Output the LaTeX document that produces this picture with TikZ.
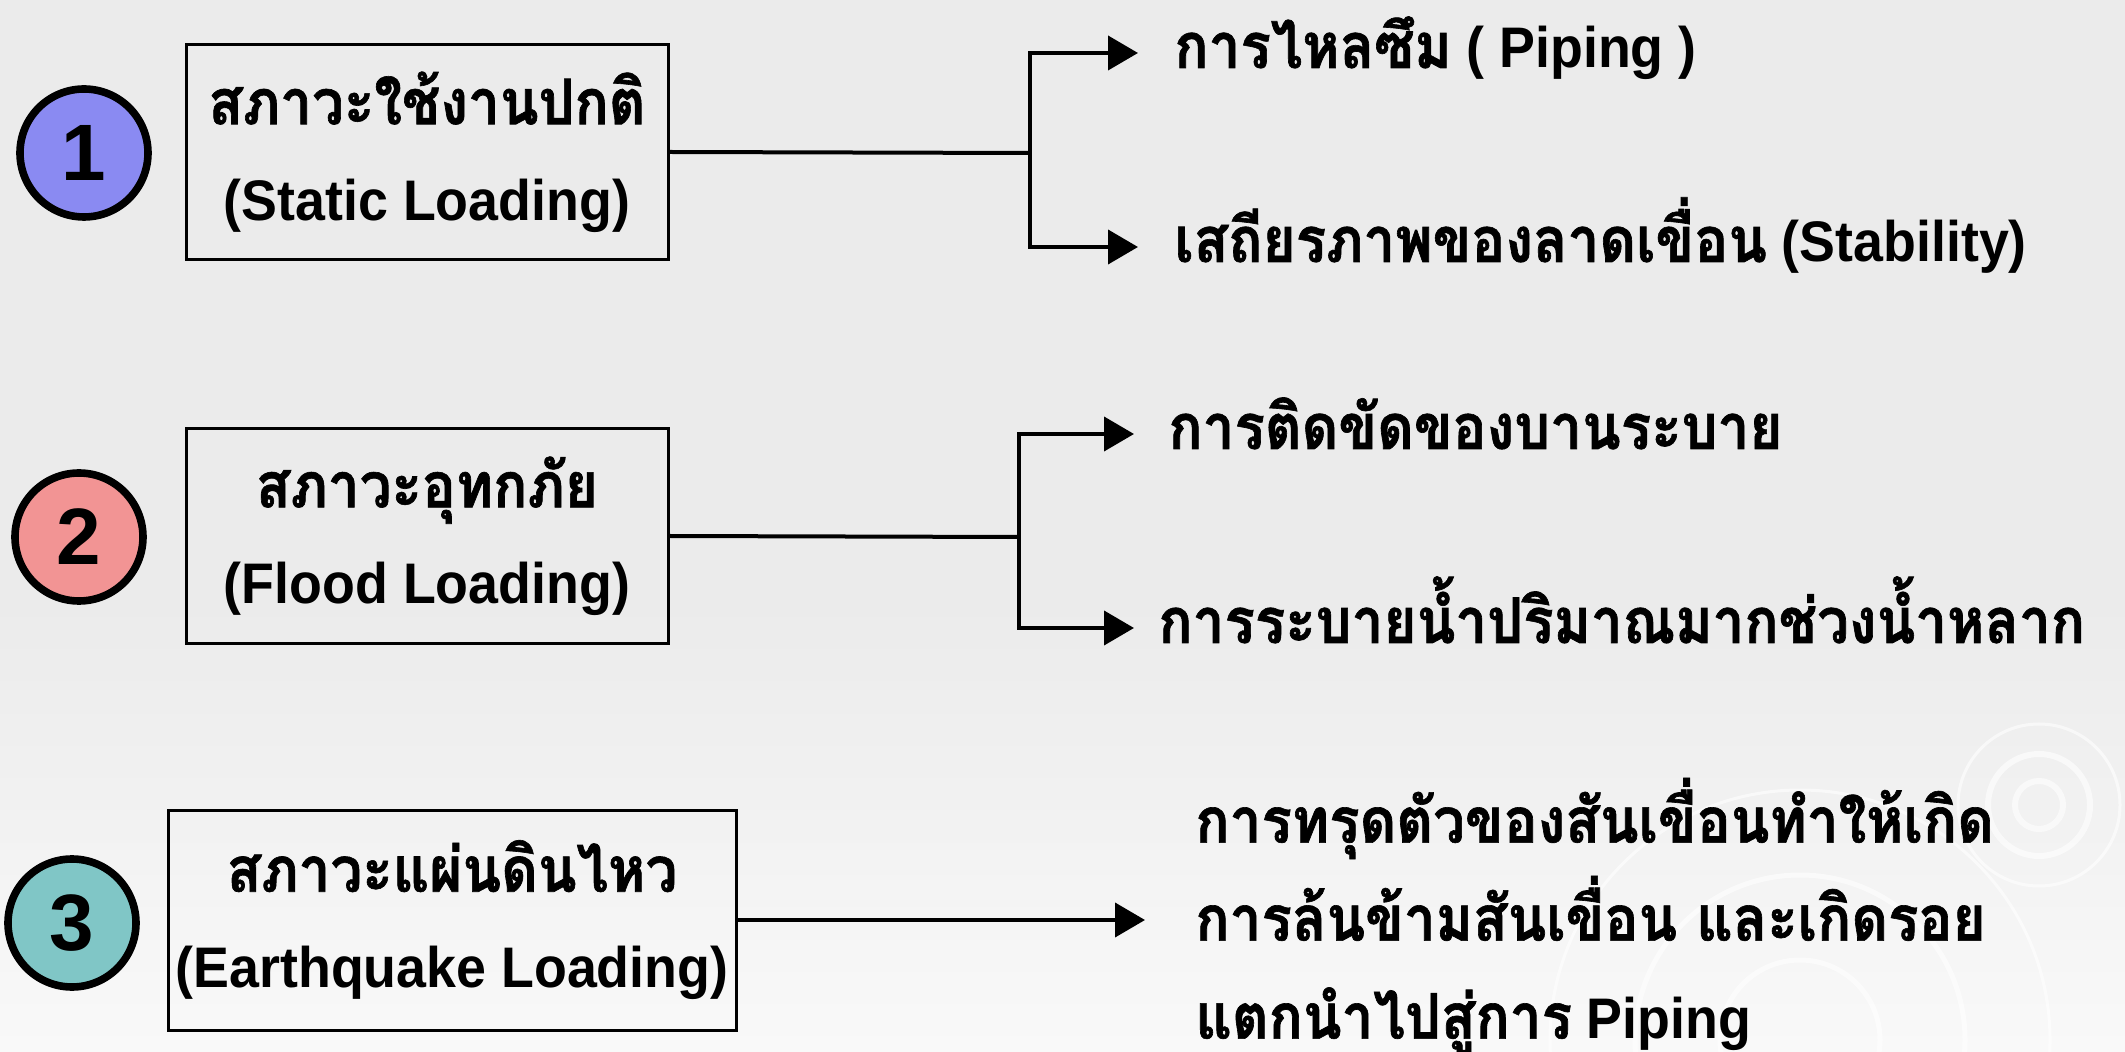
\documentclass[tikz,border=0pt]{standalone}
\usepackage{fontspec}
\setmainfont{Liberation Sans}[FakeStretch=0.94]
\newfontfamily\digitfont{Liberation Sans}
\newfontfamily\thaifont[Script=Thai,FakeStretch=0.9,Scale=1.1,BoldFeatures={FakeBold=1}]{Loma}
\usepackage{tikz}
\usetikzlibrary{arrows.meta,positioning}
\definecolor{LoadBlue}{HTML}{8A8AF2}
\definecolor{LoadRed}{HTML}{F29494}
\definecolor{LoadTeal}{HTML}{80C6C6}
\definecolor{SlideGrey}{HTML}{EBEBEB}
\definecolor{SlideLight}{HTML}{F9F9F9}
\newcommand{\thtxt}[1]{{\thaifont #1}}
\newcommand{\tightlines}{\lineskiplimit-60pt\relax}

\begin{document}
\begin{tikzpicture}[
  x=0.5pt,y=-0.5pt,
  num/.style={circle,draw=black,line width=3.8pt,minimum size=64pt,inner sep=0pt,font={\digitfont\fontsize{40}{40}\selectfont\bfseries}},
  loadbox/.style={draw=black,line width=1.5pt,align=center,inner sep=0pt,minimum height=107.5pt,font={\fontsize{28.6}{48}\selectfont\bfseries\tightlines}},
  item/.style={anchor=west,align=left,inner sep=0pt,text height=22pt,text depth=7pt,font={\fontsize{28.6}{48}\selectfont\bfseries}},
  itemblock/.style={anchor=west,align=left,inner sep=0pt,font={\fontsize{28.6}{49}\selectfont\bfseries\tightlines}},
  link/.style={line width=2pt},
  arr/.style={link,-{Triangle[length=15pt,width=17pt]}}
]
  \useasboundingbox (0,0) rectangle (2125,1052);
  % slide background
  \fill[SlideGrey] (0,0) rectangle (2125,600);
  \shade[top color=SlideGrey,bottom color=SlideLight] (0,600) rectangle (2125,1052);
  % faint rings in the lower right corner
  \begin{scope}
    \clip (0,0) rectangle (2125,1052);
    \draw[white,line width=2.5pt,opacity=0.6] (1800,1040) circle (80) (1800,1040) circle (165);
    \draw[white,line width=1.5pt,opacity=0.6] (1800,1040) circle (250);
    \draw[white,line width=3pt,opacity=0.6] (2039,805) circle (24) (2039,805) circle (51);
    \draw[white,line width=1.5pt,opacity=0.6] (2039,805) circle (81);
  \end{scope}

  % loading cases
  \node[num,fill=LoadBlue] (n1) at (84,153) {1};
  \node[num,fill=LoadRed] (n2) at (79,537) {2};
  \node[num,fill=LoadTeal] (n3) at (72,923) {3};
  \node[loadbox,minimum width=241pt] (static) at (427,152) {\thtxt{สภาวะใช้งานปกติ}\\(Static Loading)};
  \node[loadbox,minimum width=241pt] (flood) at (427,536) {\thtxt{สภาวะอุทกภัย}\\(Flood Loading)};
  \node[loadbox,minimum width=284pt,minimum height=110pt] (quake) at (452,920) {\thtxt{สภาวะแผ่นดินไหว}\\(Earthquake Loading)};

  % effects
  \node[item] (piping) at (1174,53) {\thtxt{การไหลซึม} ( Piping )};
  \node[item] (slope) at (1174,247) {\thtxt{เสถียรภาพของลาดเขื่อน} (Stability)};
  \node[item] (gate) at (1168,434) {\thtxt{การติดขัดของบานระบาย}};
  \node[item] (spill) at (1158,628) {\thtxt{การระบายน้ำปริมาณมากช่วงน้ำหลาก}};
  \node[itemblock] (settle) at (1195,916) {\thtxt{การทรุดตัวของสันเขื่อนทำให้เกิด}\\\thtxt{การล้นข้ามสันเขื่อน และเกิดรอย}\\\thtxt{แตกนำไปสู่การ} Piping};

  % connectors
  \coordinate (fork1) at (1030,153);
  \coordinate (fork2) at (1019,537);
  \draw[link] (static.east) -- (fork1);
  \draw[arr,shorten >=18pt] (fork1) |- (piping.west);
  \draw[arr,shorten >=18pt] (fork1) |- (slope.west);
  \draw[link] (flood.east) -- (fork2);
  \draw[arr,shorten >=17pt] (fork2) |- (gate.west);
  \draw[arr,shorten >=12pt] (fork2) |- (spill.west);
  \draw[arr,shorten >=25pt] (quake.east) -- (quake.east -| settle.west);
\end{tikzpicture}
\end{document}
